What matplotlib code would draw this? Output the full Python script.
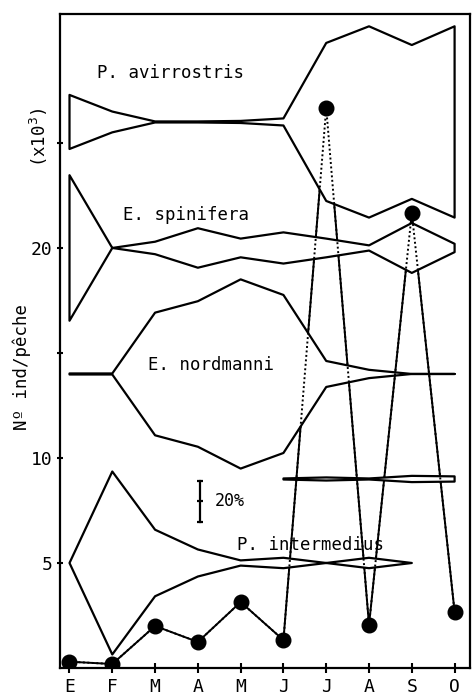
import numpy as np
import matplotlib
matplotlib.use('Agg')
import matplotlib.pyplot as plt

plt.rcParams['font.family'] = 'DejaVu Sans Mono'

months = ['E', 'F', 'M', 'A', 'M', 'J', 'J', 'A', 'S', 'O']

# total catch (x10^3 ind/peche), the black dots
total = [0.30, 0.19, 2.0, 1.24, 3.14, 1.33, 26.67, 2.05, 21.67, 2.67]

# kite diagrams: centre line (y) and width in % of the catch
avirrostris_y = 26
avirrostris = [26, 10, 0.5, 0.5, 1, 3.4, 76, 92, 74, 92]
spinifera_y = 20
spinifera = [70, 0, 6, 19, 9, 15, 9, 2.5, 24, 4]
nordmanni_y = 14
nordmanni = [0.5, 0.5, 59, 70, 91, 76, 12.5, 4, 0, 0]
intermedius_y = 5
intermedius = [0, 88, 32, 13, 2.5, 5, 0, 5, 0, np.nan]
other_y = 9
other = [np.nan, np.nan, np.nan, np.nan, np.nan, 0.5, 1.5, 0.5, 3, 2.5]

PCT = 0.099  # y units for 1 % of kite width

fig = plt.figure(figsize=(4.73, 6.95), dpi=100)
ax = fig.add_axes([60 / 473, 27 / 695, 410 / 473, 654 / 695])
x = np.arange(len(months))

# abundance line (solid outside the kites, dotted inside)
ax.plot(x, total, color='black', lw=1.4, zorder=1)

kites = [(avirrostris_y, avirrostris), (spinifera_y, spinifera),
         (nordmanni_y, nordmanni), (intermedius_y, intermedius),
         (other_y, other)]
for c, p in kites:
    p = np.array(p, float)
    ok = ~np.isnan(p)
    xs = x[ok]
    h = p[ok] * PCT / 2
    ax.fill(np.r_[xs, xs[::-1]], np.r_[c + h, (c - h)[::-1]],
            facecolor='white', edgecolor='black', lw=1.6,
            joinstyle='round', zorder=2)

ax.plot(x, total, color='black', lw=1.4, ls=(0, (1, 1.3)), zorder=3)
ax.plot(x, total, 'o', color='black', ms=10.5, zorder=4)

# scale bar 20 %
xb, yb = 3.05, 7.93
half = 20 * PCT / 2
ax.plot([xb, xb], [yb - half, yb + half], color='black', lw=1.6, zorder=4)
ax.plot([xb] * 3, [yb - half, yb, yb + half], '_', color='black', ms=5, mew=1.6, zorder=4)
ax.text(3.40, 7.71, '20%', fontsize=12, va='baseline', ha='left', zorder=6)

ax.text(0.64, 28.1, 'P. avirrostris', fontsize=12.5, va='baseline', zorder=6)
ax.text(1.25, 21.33, 'E. spinifera', fontsize=12.5, va='baseline', zorder=6)
ax.text(1.83, 14.19, 'E. nordmanni', fontsize=12.5, va='baseline', zorder=6)
ax.text(3.91, 5.62, 'P. intermedius', fontsize=12.5, va='baseline', zorder=6)

ax.set_xlim(-0.222, 9.36)
ax.set_ylim(0, 31.14)
ax.set_xticks(x, months)
ax.set_yticks([5, 10, 15, 20, 25], ['5', '10', '', '20', ''])
ax.tick_params(direction='inout', width=1.5, colors='black', labelsize=13)
ax.tick_params(axis='x', length=7, pad=4)
ax.tick_params(axis='y', length=5, pad=3)
for s in ax.spines.values():
    s.set_linewidth(1.6)

ax.text(-0.093, 0.46, 'Nº ind/pêche', rotation=90, fontsize=12.5,
        ha='center', va='center', transform=ax.transAxes)
ax.text(-0.051, 0.812, r'(x10$^3$)', rotation=90, fontsize=12.5,
        ha='center', va='center', transform=ax.transAxes)

fig.savefig('out.png', dpi=100)
